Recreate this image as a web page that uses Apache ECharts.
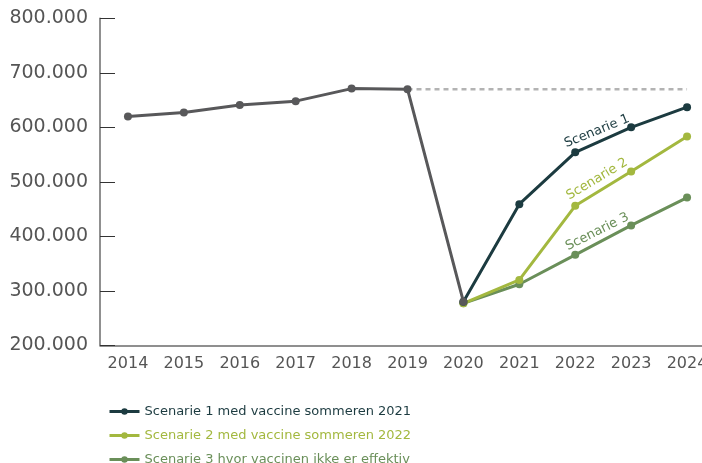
<!DOCTYPE html>
<html>
<head>
<meta charset="utf-8">
<script src="https://cdn.jsdelivr.net/npm/echarts@6/dist/echarts.min.js"></script>
<style>html,body{margin:0;padding:0;background:#fff;}#c{width:702px;height:463px;}</style>
</head>
<body>
<div id="c"></div>
<script>
const years = ['2014','2015','2016','2017','2018','2019','2020','2021','2022','2023','2024'];
const historical = [620, 627, 641, 648, 671, 670, 280, null, null, null, null];
const reference = [null, null, null, null, null, 670, 670, 670, 670, 670, 670];
const scenario1 = [null, null, null, null, null, null, 280, 459, 554, 600, 637];
const scenario2 = [null, null, null, null, null, null, 277, 320, 456, 519, 583];
const scenario3 = [null, null, null, null, null, null, 277, 312, 366, 420, 471];
const names = ['Scenarie 1 med vaccine sommeren 2021', 'Scenarie 2 med vaccine sommeren 2022', 'Scenarie 3 hvor vaccinen ikke er effektiv'];
const shortNames = ['Scenarie 1', 'Scenarie 2', 'Scenarie 3'];
const colors = ['#1c3b40', '#a3b83f', '#6a8f59'];
const yTicks = [200, 300, 400, 500, 600, 700, 800];

const FONT = 'DejaVu Sans';
const labelCfg = [
  {rotate: 22, offset: [28, -11.5]},
  {rotate: 31, offset: [32.5, -11.6]},
  {rotate: 26.6, offset: [30, -10.7]}
];
function withLabel(arr, i) {
  return arr.map((v, k) => {
    if (years[k] === '2022') {
      return {
        value: v,
        label: {
          show: true, position: 'inside', formatter: shortNames[i],
          rotate: labelCfg[i].rotate, offset: labelCfg[i].offset,
          align: 'center', verticalAlign: 'middle',
          color: colors[i], fontFamily: FONT, fontSize: 13
        }
      };
    }
    return v;
  });
}
const scen = [scenario1, scenario2, scenario3];
const scenSeries = scen.map((arr, i) => ({
  name: names[i], type: 'line', data: withLabel(arr, i),
  symbol: 'circle', symbolSize: 8, showSymbol: true,
  lineStyle: {color: colors[i], width: 3},
  itemStyle: {color: colors[i]},
  z: 3 + (2 - i), connectNulls: false, animation: false
}));

const chart = echarts.init(document.getElementById('c'), null, {renderer: 'canvas'});
chart.setOption({
  animation: false,
  grid: {left: 100, top: 18.3, height: 327, width: 615, containLabel: false, outerBoundsMode: 'none'},
  xAxis: {
    type: 'category', data: years, boundaryGap: true,
    axisLine: {lineStyle: {color: '#6b6b6b', width: 1.5}},
    axisTick: {inside: true, length: 8, lineStyle: {color: '#555', width: 1}},
    axisLabel: {color: '#555', fontFamily: FONT, fontSize: 16, margin: 11}
  },
  yAxis: {
    type: 'value', min: 200, max: 800, interval: 100,
    axisLine: {show: true, lineStyle: {color: '#6b6b6b', width: 1.5}},
    axisTick: {show: true, inside: true, length: 15, lineStyle: {color: '#333', width: 1}},
    splitLine: {show: false},
    axisLabel: {
      color: '#555', fontFamily: FONT, fontSize: 19, margin: 12,
      formatter: v => yTicks.includes(v) ? (v + '.000') : ''
    }
  },
  legend: {
    orient: 'vertical', left: 108, top: 405, height: 120, padding: 0,
    itemWidth: 30, itemHeight: 8, itemGap: 11,
    lineStyle: {width: 3},
    data: names.map((n, i) => ({name: n, textStyle: {color: colors[i]}})),
    textStyle: {fontFamily: FONT, fontSize: 13}
  },
  series: [
    ...scenSeries,
    {
      name: 'ref', type: 'line', data: reference, symbol: 'none',
      lineStyle: {color: '#b3b3b3', width: 2.5, type: [5, 4]}, z: 1
    },
    {
      name: 'hist', type: 'line', data: historical,
      symbol: 'circle', symbolSize: 8,
      lineStyle: {color: '#58585a', width: 3}, itemStyle: {color: '#58585a'}, z: 10
    }
  ]
});
</script>
</body>
</html>
